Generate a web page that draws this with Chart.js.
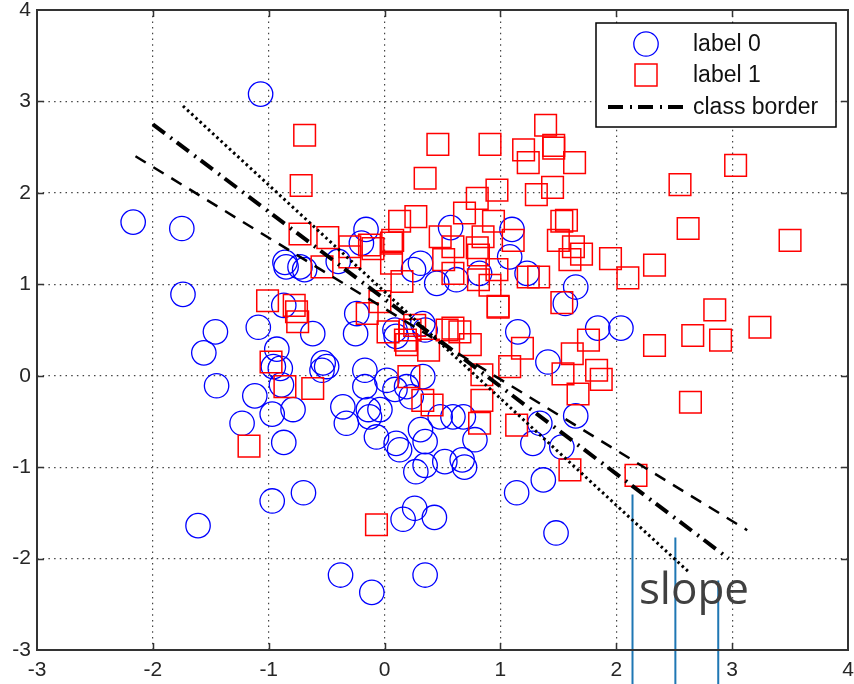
<!DOCTYPE html>
<html>
<head>
<meta charset="utf-8">
<script src="https://cdn.jsdelivr.net/npm/chart.js@4.4.1/dist/chart.umd.min.js"></script>
<style>
  html, body { margin: 0; padding: 0; background: #fff; }
  #wrap { width: 854px; height: 684px; }
</style>
</head>
<body>
<div id="wrap"><canvas id="borderChart" width="854" height="684"></canvas></div>
<script>
// class 0 samples (circles)
const label0X = [-1.07, -2.17, -1.75, -1.74, -1.46, -1.56, -1.45, -1.12, -1.23, -0.87, -0.97, -1.09, -0.93, -0.96, -0.90, -0.89,
  -0.87, -0.85, -0.86, -0.79, -1.61, -0.97, -0.70, -0.38, -0.11, 0.35, 0.16, 0.26, 0.43, 0.13, 0.27, 0.35, 0.52, 0.67, 0.69,
  0.35, 1.14, 1.37, 1.48, 1.28, 1.53, 0.78, 1.65, 1.56, 1.84, 2.04, 1.65, -0.69, -0.40, -0.73, -0.62, -0.53, -0.54, -0.50,
  -0.36, -0.17, -0.17, -0.14, -0.13, -0.04, 0.02, 0.09, 0.19, 0.23, 0.33, -0.24, -0.25, 0.09, 0.10, 0.33, 0.35, 0.25, 0.31,
  0.45, 0.62, 0.82, 1.08, 1.23, 1.10, 1.15, 1.41, 1.34, 0.10, -0.07, -0.33, 0.31, 0.48, 0.59, 0.68, -0.16, -0.20, 0.57];
const label0Y = [3.08, 1.68, 1.61, 0.89, 0.48, 0.25, -0.11, -0.22, -0.52, -0.73, -0.42, 0.53, 0.29, 0.10, 0.08, -0.10,
  0.77, 1.19, 1.24, -0.37, -1.64, -1.37, -1.28, -2.18, -2.37, -2.18, -1.57, -1.45, -1.55, -0.81, -1.05, -0.98, -0.94, -0.92, -1.00,
  -0.72, -1.28, -1.14, -1.72, -0.74, -0.78, -0.70, 0.97, 0.79, 0.52, 0.52, -0.44, 1.16, 1.25, 1.19, 0.46, 0.14, 0.06, 0.10,
  -0.34, 0.06, -0.12, -0.37, -0.45, -0.37, -0.05, -0.15, -0.12, -0.23, -0.01, 0.68, 0.46, 0.50, 0.43, 0.57, 0.50, 1.16, 1.23,
  1.01, 1.05, 1.12, 1.30, 1.12, 1.60, 0.48, 0.15, -0.52, -0.74, -0.67, -0.52, -0.59, -0.45, -0.45, -0.45, 1.60, 1.45, 1.62];

// class 1 samples (squares)
const label1X = [-0.69, -0.72, 0.46, 0.91, 0.35, 1.39, 1.20, 1.46, 1.46, 1.24, 1.64, 1.31, 1.45, 0.80, 0.97, 0.13, 0.27,
  0.69, 0.94, 1.11, 1.53, 1.50, 0.07, -0.49, -0.73, -0.30, 0.80, 0.59, -0.13, 1.63, 3.03, 2.55, 2.62, 3.50, 1.95, 1.57,
  1.70, 1.60, 2.33, 2.10, 1.53, 2.85, 2.66, 2.90, 3.24, 2.33, 1.76, 1.62, 1.83, 1.87, 1.54, 1.67, 2.64, 2.17, 1.60, -1.01,
  -0.78, -0.76, -0.75, -0.98, -0.86, -1.17, -0.30, -0.54, -0.10, 0.06, 0.06, 0.15, 0.51, 0.59, 0.81, 0.81, 0.97, 0.91, 0.98,
  0.98, 1.33, 1.24, -0.04, -0.15, 0.03, 0.22, 0.26, 0.18, 0.19, 0.38, 0.59, 0.65, 0.54, 0.74, 1.19, 1.08, -0.62, 0.21, 0.33,
  0.41, 0.84, 0.84, 0.82, 1.14, -0.07, 0.48, 0.85];
const label1Y = [2.63, 2.08, 2.53, 2.53, 2.16, 2.74, 2.47, 2.52, 2.49, 2.33, 2.33, 1.98, 2.06, 1.94, 2.03, 1.69, 1.74,
  1.78, 1.69, 1.48, 1.69, 1.48, 1.48, 1.51, 1.55, 1.41, 1.40, 1.41, 1.43, 1.41, 2.30, 2.09, 1.61, 1.48, 1.28, 1.70,
  1.33, 1.27, 1.21, 1.07, 0.80, 0.72, 0.44, 0.39, 0.53, 0.33, 0.39, 0.24, 0.06, -0.04, 0.02, -0.20, -0.29, -1.09, -1.03, 0.82,
  0.77, 0.70, 0.59, 0.15, -0.12, -0.77, 1.30, 1.19, 1.39, 1.45, 1.23, 1.03, 1.27, 1.12, 1.32, 1.05, 1.16, 0.99, 0.75,
  0.76, 1.08, 1.08, 0.81, 0.68, 0.48, 0.50, 0.55, 0.39, 0.34, 0.28, 0.52, 0.48, 0.50, 0.34, 0.30, 0.10, -0.14, -0.01, -0.27,
  -0.32, 0.01, -0.27, -0.52, -0.54, -1.63, 1.52, 1.52];

// separating lines (end points)
const borderX = [-2.00, 2.97];
const borderY = [2.75, -2.00];
const dashedX = [-2.15, 3.13];
const dashedY = [2.40, -1.69];
const dottedX = [-1.74, 2.62];
const dottedY = [2.95, -2.14];

// slope markers: vertical lines hanging from the border region
const slopeX = [2.14, 2.51, 2.88];
const slopeTop = [-1.30, -1.77, -2.24];
const slopeBottom = -3.40;
const slopeNote = { text: 'slope', x: 2.195, y: -2.5 };

const xTicks = [-3, -2, -1, 0, 1, 2, 3, 4];
const yTicks = [-3, -2, -1, 0, 1, 2, 3, 4];

const legendLabels = ['label 0', 'label 1', 'class border'];

const FONT = '"Liberation Sans", Arial, sans-serif';

function pairs(xs, ys) {
    return xs.map((x, i) => ({ x: x, y: ys[i] }));
}

// box + inward tick marks (matlab style)
const axesBox = {
    id: 'axesBox',
    afterDatasetsDraw(chart) {
        const { ctx, chartArea: a, scales } = chart;
        ctx.save();
        ctx.strokeStyle = '#333';
        ctx.lineWidth = 1.5;
        const tl = 7;
        ctx.beginPath();
        xTicks.slice(1, -1).forEach(v => {
            const px = Math.round(scales.x.getPixelForValue(v)) + 0.5;
            ctx.moveTo(px, a.bottom); ctx.lineTo(px, a.bottom - tl);
            ctx.moveTo(px, a.top); ctx.lineTo(px, a.top + tl);
        });
        yTicks.slice(1, -1).forEach(v => {
            const py = Math.round(scales.y.getPixelForValue(v)) + 0.5;
            ctx.moveTo(a.left, py); ctx.lineTo(a.left + tl, py);
            ctx.moveTo(a.right, py); ctx.lineTo(a.right - tl, py);
        });
        ctx.stroke();
        ctx.lineWidth = 2;
        ctx.strokeRect(a.left, a.top, a.right - a.left, a.bottom - a.top);
        ctx.restore();
    }
};

// legend box in the upper right corner + "slope" note
const overlay = {
    id: 'overlay',
    afterDraw(chart) {
        const { ctx, chartArea: a, scales } = chart;
        ctx.save();

        const bx = a.right - 252, by = a.top + 13, bw = 240, bh = 104;
        ctx.fillStyle = '#fff';
        ctx.fillRect(bx, by, bw, bh);
        ctx.strokeStyle = '#000';
        ctx.lineWidth = 1.5;
        ctx.strokeRect(bx, by, bw, bh);

        const mx = bx + 50;
        const rows = [by + 21, by + 52, by + 84];

        ctx.strokeStyle = '#0000ff';
        ctx.lineWidth = 1.3;
        ctx.beginPath();
        ctx.arc(mx, rows[0], 12.2, 0, Math.PI * 2);
        ctx.stroke();

        ctx.strokeStyle = '#ff0000';
        ctx.lineWidth = 1.5;
        ctx.strokeRect(mx - 11, rows[1] - 11, 22, 22);

        ctx.strokeStyle = '#000';
        ctx.lineWidth = 4;
        ctx.setLineDash([15, 7, 2, 6]);
        ctx.beginPath();
        ctx.moveTo(bx + 12, rows[2]);
        ctx.lineTo(bx + 87, rows[2]);
        ctx.stroke();
        ctx.setLineDash([]);

        ctx.fillStyle = '#111';
        ctx.font = '23px ' + FONT;
        ctx.textAlign = 'left';
        ctx.textBaseline = 'middle';
        legendLabels.forEach((t, i) => ctx.fillText(t, bx + 97, rows[i] + 1));

        // note next to the slope markers
        ctx.fillStyle = '#404040';
        ctx.font = '44px "Open Sans", "Noto Sans", sans-serif';
        ctx.textAlign = 'left';
        ctx.textBaseline = 'alphabetic';
        ctx.fillText(slopeNote.text, scales.x.getPixelForValue(slopeNote.x), scales.y.getPixelForValue(slopeNote.y));
        ctx.restore();
    }
};

const lineStyle = (borderWidth, dash) => ({
    type: 'line',
    borderColor: '#000',
    borderWidth: borderWidth,
    borderDash: dash,
    borderCapStyle: 'butt',
    pointRadius: 0,
    fill: false,
    order: 0
});

const slopeSets = slopeX.map((x, i) => ({
    type: 'line',
    data: [{ x: x, y: slopeTop[i] }, { x: x, y: slopeBottom }],
    borderColor: '#1f77b4',
    borderWidth: 2,
    pointRadius: 0,
    clip: false,
    order: 0
}));

const config = {
    type: 'scatter',
    data: {
        datasets: [
            Object.assign({ label: legendLabels[2], data: pairs(borderX, borderY) }, lineStyle(4, [15, 7, 2, 6])),
            Object.assign({ label: 'upper', data: pairs(dashedX, dashedY) }, lineStyle(2.5, [12, 9])),
            Object.assign({ label: 'lower', data: pairs(dottedX, dottedY) }, lineStyle(3, [2.5, 3.2])),
            {
                label: legendLabels[1],
                data: pairs(label1X, label1Y),
                pointStyle: 'rect',
                pointRadius: 15.3,
                borderColor: '#ff0000',
                borderWidth: 1.5,
                backgroundColor: 'rgba(0,0,0,0)',
                order: 1
            },
            {
                label: legendLabels[0],
                data: pairs(label0X, label0Y),
                pointStyle: 'circle',
                pointRadius: 12.2,
                borderColor: '#0000ff',
                borderWidth: 1.3,
                backgroundColor: 'rgba(0,0,0,0)',
                order: 2
            },
            ...slopeSets
        ]
    },
    options: {
        responsive: false,
        devicePixelRatio: 1,
        animation: false,
        layout: { autoPadding: false, padding: { top: 10, right: 6, left: 0, bottom: 0 } },
        plugins: {
            legend: { display: false },
            tooltip: { enabled: false }
        },
        scales: {
            x: {
                type: 'linear',
                min: -3,
                max: 4,
                afterBuildTicks: (s) => { s.ticks = xTicks.map(v => ({ value: v })); },
                afterFit: (s) => { s.height = 34; s.paddingLeft = 0; s.paddingRight = 0; },
                grid: { color: '#444', lineWidth: 1.2, drawTicks: false },
                border: { display: false, dash: [1.5, 4.2] },
                ticks: { color: '#262626', padding: 8, font: { family: FONT, size: 21 }, maxRotation: 0, autoSkip: false }
            },
            y: {
                type: 'linear',
                min: -3,
                max: 4,
                afterBuildTicks: (s) => { s.ticks = yTicks.map(v => ({ value: v })); },
                afterFit: (s) => { s.width = 37; s.paddingTop = 0; s.paddingBottom = 0; },
                grid: { color: '#444', lineWidth: 1.2, drawTicks: false },
                border: { display: false, dash: [1.5, 4.2] },
                ticks: { color: '#262626', padding: 6, font: { family: FONT, size: 21 }, autoSkip: false }
            }
        }
    },
    plugins: [axesBox, overlay]
};

new Chart(document.getElementById('borderChart').getContext('2d'), config);
</script>
</body>
</html>
